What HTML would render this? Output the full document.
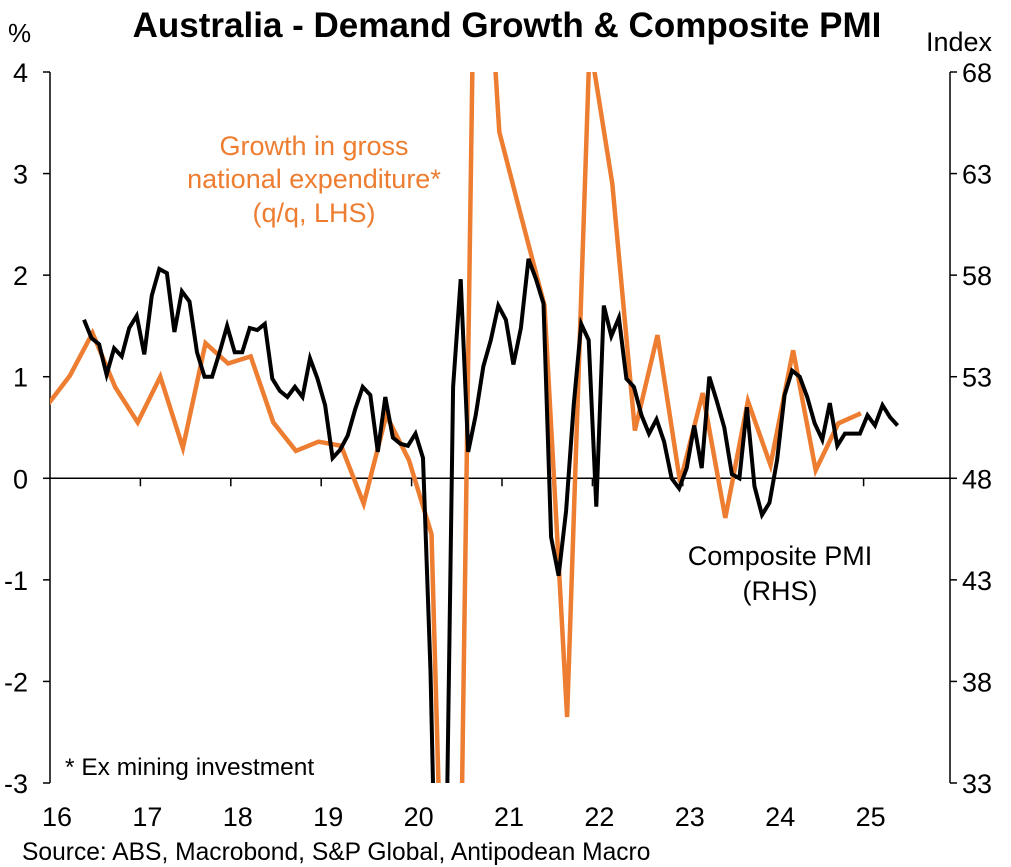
<!DOCTYPE html>
<html><head><meta charset="utf-8"><style>
html,body{margin:0;padding:0;background:#fff;overflow:hidden;width:1011px;height:867px;}
svg{display:block;}
svg text{font-family:"Liberation Sans",Arial,sans-serif;}
</style></head><body>
<svg id="chart" width="1011" height="867" viewBox="0 0 1011 867" xmlns="http://www.w3.org/2000/svg">
<defs><clipPath id="plotclip"><rect x="50" y="72" width="900" height="711"/></clipPath></defs>
<text x="507" y="37" text-anchor="middle" font-size="35" font-weight="bold">Australia - Demand Growth &amp; Composite PMI</text>
<text x="8" y="42" font-size="26">%</text>
<text x="992" y="51" text-anchor="end" font-size="27">Index</text>
<g id="axes"></g>
<g id="series" clip-path="url(#plotclip)"></g>
<text font-size="27" fill="#ED7D31" text-anchor="middle"><tspan x="314" y="155">Growth in gross</tspan><tspan x="314" y="188">national expenditure*</tspan><tspan x="314" y="222">(q/q, LHS)</tspan></text>
<text font-size="27" text-anchor="middle"><tspan x="780" y="565">Composite PMI</tspan><tspan x="780" y="600">(RHS)</tspan></text>
<text x="65" y="775" font-size="24.5">* Ex mining investment</text>
<text x="22" y="860" font-size="24.6">Source: ABS, Macrobond, S&amp;P Global, Antipodean Macro</text>
</svg>
<script>
const leftTicks=[4,3,2,1,0,-1,-2,-3];
const rightTicks=[68,63,58,53,48,43,38,33];
const yearLabels=["16","17","18","19","20","21","22","23","24","25"];
const gneStart=2015.97;
const gneValues=[0.72,1.01,1.43,0.90,0.55,1.00,0.30,1.33,1.13,1.20,0.55,0.27,0.36,0.32,-0.25,0.62,0.18,-0.55,-8.5,7.0,3.41,2.55,1.7,-2.35,4.3,2.9,0.47,1.41,-0.04,0.84,-0.39,0.76,0.13,1.26,0.08,0.54,0.64];
const pmiStart=2016.376;
const pmiValues=[55.8,54.9,54.6,53.1,54.4,54.0,55.4,56.0,54.1,57.0,58.3,58.1,55.2,57.2,56.7,54.2,53.0,53.0,54.2,55.5,54.2,54.2,55.4,55.3,55.6,52.9,52.3,52.0,52.5,52.0,53.9,52.9,51.6,49.0,49.4,50.1,51.4,52.5,52.1,49.3,52.0,50.0,49.7,49.6,50.2,49.0,38.5,21.7,27.0,52.5,57.8,49.3,51.1,53.5,54.8,56.5,55.8,53.6,55.4,58.8,57.8,56.6,45.1,43.2,46.4,51.6,55.6,54.8,46.6,56.5,55.0,55.9,52.9,52.5,51.1,50.2,50.9,49.8,48.0,47.5,48.5,50.6,48.5,53.0,51.8,50.5,48.2,48.0,51.5,47.6,46.2,46.8,48.9,52.1,53.3,53.0,52.0,50.7,49.9,51.7,49.6,50.2,50.2,50.2,51.1,50.6,51.6,51.0,50.6];
const NS="http://www.w3.org/2000/svg";
const X0=50,X1=950,YT=72,YB=783;
function xScale(t){return X0+(t-2016)*90.4;}
function yL(v){return YT+(4-v)*(YB-YT)/7;}
function yR(v){return YT+(68-v)*(YB-YT)/35;}
function mk(tag,attrs,parent){const e=document.createElementNS(NS,tag);for(const k in attrs)e.setAttribute(k,attrs[k]);parent.appendChild(e);return e;}
const axes=document.getElementById('axes');
const series=document.getElementById('series');
let a=mk('line',{x1:X0,y1:YT,x2:X0,y2:YB,stroke:'#000','stroke-width':1.5},axes);


a=mk('line',{x1:X1,y1:YT,x2:X1,y2:YB,stroke:'#000','stroke-width':1.5},axes);


a=mk('line',{x1:X0,y1:yL(0),x2:X1,y2:yL(0),stroke:'#000','stroke-width':1.5},axes);


leftTicks.forEach(v=>{
 const y=yL(v);
 const t=mk('line',{x1:X0-7,y1:y,x2:X0,y2:y,stroke:'#000','stroke-width':1.5},axes);
 
 
 const l=mk('text',{x:28,y:y+10,'text-anchor':'end','font-size':27},axes);
 l.textContent=String(v);
 
 
});
rightTicks.forEach(v=>{
 const y=yR(v);
 const t=mk('line',{x1:X1,y1:y,x2:X1+7,y2:y,stroke:'#000','stroke-width':1.5},axes);
 
 
 const l=mk('text',{x:962,y:y+10,'font-size':27},axes);
 l.textContent=String(v);
 
 
});
yearLabels.forEach((s,i)=>{
 const x=xScale(2016+i);
 if(i>0){const t=mk('line',{x1:x,y1:yL(0),x2:x,y2:yL(0)+8,stroke:'#000','stroke-width':1.5},axes);
 
 }
 const l=mk('text',{x:x+7,y:826,'text-anchor':'middle','font-size':27},axes);
 l.textContent=s;
 
 
});
const gp=gneValues.map((v,i)=>xScale(gneStart+i*0.25).toFixed(1)+','+yL(v).toFixed(1)).join(' ');
const g=mk('polyline',{points:gp,fill:'none',stroke:'#ED7D31','stroke-width':4.5,'stroke-linejoin':'miter'},series);


const pp=pmiValues.map((v,i)=>xScale(pmiStart+i/12).toFixed(1)+','+yR(v).toFixed(1)).join(' ');
const p=mk('polyline',{points:pp,fill:'none',stroke:'#000','stroke-width':4,'stroke-linejoin':'miter'},series);


</script>
</body></html>
